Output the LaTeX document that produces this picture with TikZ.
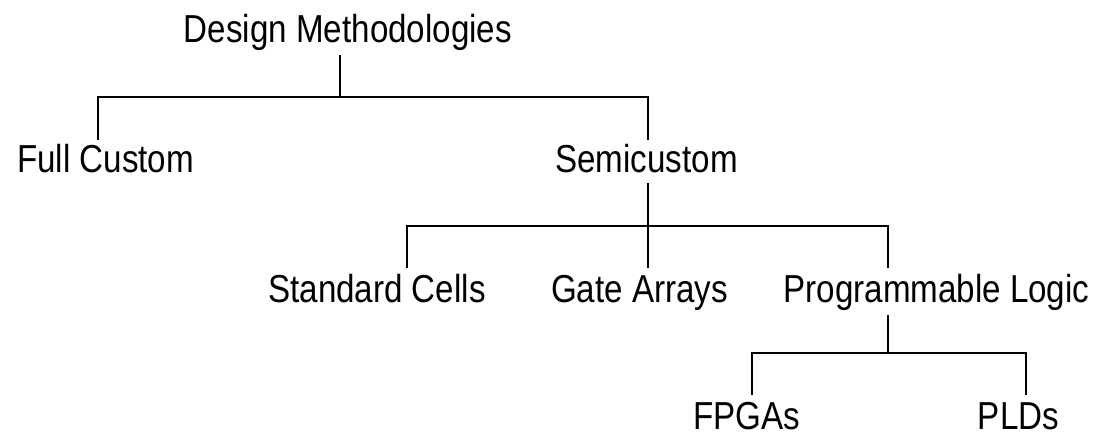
\documentclass[tikz,border=0pt]{standalone}
\usepackage{fontspec}
\setmainfont{Liberation Sans}[FakeStretch=0.85]
\begin{document}
\begin{tikzpicture}[x=1pt,y=-1pt,
  label/.style={inner sep=0pt,anchor=base,font=\fontsize{39}{42}\selectfont},
  wire/.style={line width=1.8pt,line cap=butt}]
\useasboundingbox[fill=white] (0,0) rectangle (1097,433);

% tree labels, placed by their baselines
\node[label] (dm)  at (348,42.5)  {Design Methodologies};
\node[label] (fc)  at (105.5,172.5) {Full Custom};
\node[label] (sc)  at (646.5,172.5) {Semicustom};
\node[label] (std) at (377,302)   {Standard Cells};
\node[label] (ga)  at (639.5,302) {Gate Arrays};
\node[label] (pl)  at (936.5,302) {Programmable Logic};
\node[label] (fp)  at (746.5,429) {FPGAs};
\node[label] (pld) at (1018.5,429){PLDs};

% branch points
\coordinate (dmtop) at (340,55);
\coordinate (bar1)  at (340,97);
\coordinate (fcl)   at (98,97);
\coordinate (fcend) at (98,140);
\coordinate (scl)   at (648,97);
\coordinate (scend) at (648,140);
\coordinate (sctop) at (648,183);
\coordinate (gaend) at (648,268);
\coordinate (stdl)  at (407,226);
\coordinate (stdend)at (407,268);
\coordinate (plr)   at (888,226);
\coordinate (plend) at (888,268);
\coordinate (pltop) at (888,315);
\coordinate (bar3)  at (888,353);
\coordinate (fpl)   at (752,353);
\coordinate (fpend) at (752,395);
\coordinate (pldr)  at (1026,353);
\coordinate (pldend)at (1026,395);

% level 1
\draw[wire] (dmtop) -- (bar1);
\draw[wire] (fcend) -- (fcl) -- (scl) -- (scend);
% level 2
\draw[wire] (sctop) -- (gaend);
\draw[wire] (stdend) -- (stdl) -- (plr) -- (plend);
% level 3
\draw[wire] (pltop) -- (bar3);
\draw[wire] (fpend) -- (fpl) -- (pldr) -- (pldend);
\end{tikzpicture}
\end{document}
